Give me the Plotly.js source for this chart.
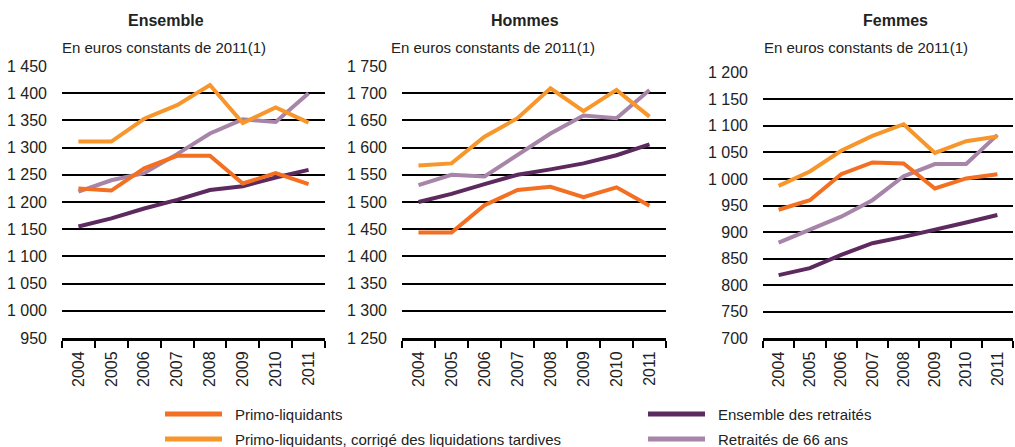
<!DOCTYPE html>
<html>
<head>
<meta charset="utf-8">
<script src="https://cdn.plot.ly/plotly-3.0.1.min.js"></script>
<style>
html,body{margin:0;padding:0;background:#fff;}
#chart{width:1015px;height:447px;}
</style>
</head>
<body>
<div id="chart"></div>
<script>
// ---- Data ----
const years = ['2004','2005','2006','2007','2008','2009','2010','2011'];

const seriesNames = ['Ensemble des retraités', 'Retraités de 66 ans', 'Primo-liquidants, corrigé des liquidations tardives', 'Primo-liquidants'];

// Ensemble
const ens_retraites   = [1155, 1170, 1188, 1204, 1222, 1229, 1245, 1259];
const ens_66ans       = [1219, 1240, 1253, 1288, 1326, 1352, 1347, 1400];
const ens_corrige     = [1311, 1311, 1353, 1378, 1415, 1345, 1374, 1346];
const ens_primo       = [1225, 1221, 1262, 1285, 1285, 1234, 1253, 1233];

// Hommes
const hom_retraites   = [1500, 1515, 1533, 1550, 1560, 1571, 1586, 1606];
const hom_66ans       = [1531, 1550, 1547, 1586, 1626, 1659, 1654, 1706];
const hom_corrige     = [1567, 1571, 1620, 1654, 1709, 1667, 1706, 1657];
const hom_primo       = [1444, 1444, 1494, 1522, 1528, 1509, 1527, 1493];

// Femmes
const fem_retraites   = [819, 832, 857, 879, 891, 904, 918, 932];
const fem_66ans       = [880, 905, 929, 960, 1005, 1028, 1028, 1083];
const fem_corrige     = [987, 1014, 1053, 1081, 1103, 1049, 1071, 1080];
const fem_primo       = [942, 960, 1009, 1031, 1029, 982, 1001, 1009];

const panelTitles = ['Ensemble', 'Hommes', 'Femmes'];
const subtitle = 'En euros constants de 2011(1)';

// ---- Styling ----
const colors = ['#5C2A5E', '#A785A8', '#F7962B', '#F36F21'];
const W = 1015, H = 447;
const px = v => v / W;
const py = v => 1 - v / H;

const panels = [
  {data:[ens_retraites, ens_66ans, ens_corrige, ens_primo], xd:[62,325], yd:[66,338], range:[950,1450]},
  {data:[hom_retraites, hom_66ans, hom_corrige, hom_primo], xd:[402,666], yd:[66,338], range:[1250,1750]},
  {data:[fem_retraites, fem_66ans, fem_corrige, fem_primo], xd:[763,1013], yd:[72.7,338.3], range:[700,1200]}
];

const tickFont = {family:'"Liberation Sans Narrow","Arial Narrow","Liberation Sans",Arial,sans-serif', size:16, color:'#222'};
const textFont = {family:'"Liberation Sans",Arial,sans-serif', size:15, color:'#222'};

const traces = [];
const layout = {
  width: W, height: H,
  margin: {l:0, r:0, t:0, b:0},
  paper_bgcolor: '#fff', plot_bgcolor: 'rgba(0,0,0,0)',
  showlegend: false,
  separators: ', ',
  annotations: [], shapes: []
};

panels.forEach((p, i) => {
  const sfx = i === 0 ? '' : String(i + 1);
  p.data.forEach((vals, k) => {
    traces.push({
      type: 'scatter', mode: 'lines',
      x: years, y: vals, name: seriesNames[k],
      xaxis: 'x' + sfx, yaxis: 'y' + sfx,
      line: {color: colors[k], width: 4},
      hoverinfo: 'skip'
    });
  });
  layout['xaxis' + sfx] = {
    type: 'category', range: [-0.5, 7.5],
    domain: [px(p.xd[0]), px(p.xd[1])],
    anchor: 'y' + sfx,
    showline: true, linecolor: '#000', linewidth: 3,
    ticks: 'outside', tickson: 'boundaries', ticklen: 7, tickwidth: 2, tickcolor: '#000',
    tickangle: -90, tickfont: tickFont, ticklabelstandoff: 4,
    showgrid: false, zeroline: false, automargin: false, fixedrange: true
  };
  layout['yaxis' + sfx] = {
    range: p.range, domain: [py(p.yd[1]), py(p.yd[0])],
    anchor: 'x' + sfx,
    dtick: 50, tick0: 0, tickformat: ',d',
    showgrid: true, gridcolor: '#000', gridwidth: 2,
    showline: false, zeroline: false, ticks: '',
    tickfont: tickFont, ticklabelstandoff: 14,
    automargin: false, fixedrange: true
  };
});

// Panel titles
const titleX = [166, 525, 895];
const subX = [60, 389, 762];
panelTitles.forEach((t, i) => {
  layout.annotations.push({
    xref:'paper', yref:'paper', x: px(titleX[i]), y: py(20),
    xanchor:'center', yanchor:'middle', showarrow:false,
    text: '<b>' + t + '</b>', font: {family: textFont.family, size: 16, color:'#222'}
  });
  layout.annotations.push({
    xref:'paper', yref:'paper', x: px(subX[i]), y: py(47),
    xanchor:'left', yanchor:'middle', showarrow:false,
    text: subtitle, font: textFont
  });
});

// Legend (2 columns)
const legendItems = [
  {k:3, x:165, y:414},
  {k:2, x:165, y:439},
  {k:0, x:648, y:414},
  {k:1, x:648, y:439}
];
legendItems.forEach(it => {
  layout.shapes.push({
    type:'line', xref:'paper', yref:'paper',
    x0: px(it.x), x1: px(it.x + 57), y0: py(it.y), y1: py(it.y),
    line: {color: colors[it.k], width: 5}
  });
  layout.annotations.push({
    xref:'paper', yref:'paper', x: px(it.x + 68), y: py(it.y),
    xanchor:'left', yanchor:'middle', showarrow:false,
    text: seriesNames[it.k], font: {family: tickFont.family, size: 15, color:'#222'}
  });
});

Plotly.newPlot('chart', traces, layout, {displayModeBar:false, staticPlot:true});
</script>
</body>
</html>
